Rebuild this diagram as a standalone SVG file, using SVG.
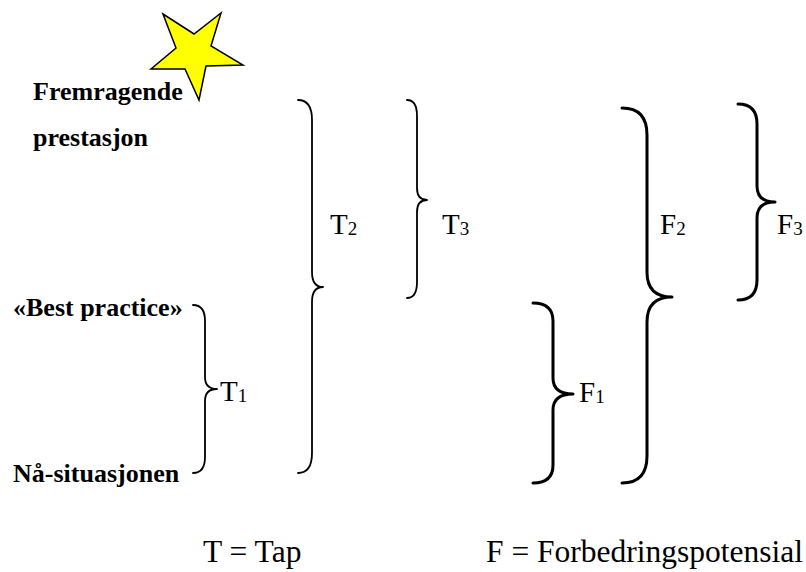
<svg xmlns="http://www.w3.org/2000/svg" width="806" height="572" viewBox="0 0 806 572">
<style>
text { font-family: "Liberation Serif", "Times New Roman", serif; fill: #000; }
.b { font-weight: bold; font-size: 26px; }
.lab { font-size: 29px; }
.sub { font-size: 19px; }
.leg { font-size: 31.5px; }
.brT { fill: none; stroke: #000; stroke-width: 1.8; stroke-linejoin: round; stroke-linecap: round; }
.brF { fill: none; stroke: #000; stroke-width: 3; stroke-linejoin: round; stroke-linecap: round; }
</style>
<rect width="806" height="572" fill="#fff"/>
<g id="star">
<polygon points="163,14 194,34 221,13 211,46 243,65 206,66 199,100 185,69 151,69 176,48" fill="#ffff00" stroke="#000" stroke-width="1.5" stroke-linejoin="miter"/>
</g>
<g id="levels">
<g id="fremragende"><text class="b" x="33" y="100">Fremragende</text><text class="b" x="33" y="146">prestasjon</text></g>
<g id="best-practice"><text class="b" x="13" y="316">«Best practice»</text></g>
<g id="naa-situasjonen"><text class="b" x="13" y="482">Nå-situasjonen</text></g>
</g>
<g id="connectors">
<path id="brace-T1" class="brT" d="M193,305 Q205,305 205,321 L205,377 Q205,389 217,389 Q205,389 205,401 L205,457 Q205,473 193,473"/>
<path id="brace-T2" class="brT" d="M298,100 Q312,100 312,120 L312,272 Q312,287 323,287 Q312,287 312,302 L312,453 Q312,473 298,473"/>
<path id="brace-T3" class="brT" d="M407,100 Q417,100 417,116 L417,188 Q417,200 427,200 Q417,200 417,212 L417,282 Q417,298 407,298"/>
<path id="brace-F1" class="brF" d="M533,303 Q553,303 553,321 L553,378 Q553,394 573,394 Q553,394 553,410 L553,465 Q553,483 533,483"/>
<path id="brace-F2" class="brF" d="M622,108 Q647,108 647,135 L647,272 Q647,297 672,297 Q647,297 647,322 L647,456 Q647,483 622,483"/>
<path id="brace-F3" class="brF" d="M738,104 Q757,104 757,124 L757,186 Q757,202 775,202 Q757,202 757,218 L757,280 Q757,300 738,300"/>
</g>
<g id="T1"><text class="lab" x="220" y="401">T<tspan class="sub" dy="1">1</tspan></text></g>
<g id="T2"><text class="lab" x="330" y="234">T<tspan class="sub" dy="1">2</tspan></text></g>
<g id="T3"><text class="lab" x="442" y="234">T<tspan class="sub" dy="1">3</tspan></text></g>
<g id="F1"><text class="lab" x="579" y="402">F<tspan class="sub" dy="1">1</tspan></text></g>
<g id="F2"><text class="lab" x="660" y="234">F<tspan class="sub" dy="1">2</tspan></text></g>
<g id="F3"><text class="lab" x="777" y="234">F<tspan class="sub" dy="1">3</tspan></text></g>
<g id="legend">
<text class="leg" x="203" y="562">T = Tap</text>
<text class="leg" x="486" y="562">F = Forbedringspotensial</text>
</g>
</svg>
